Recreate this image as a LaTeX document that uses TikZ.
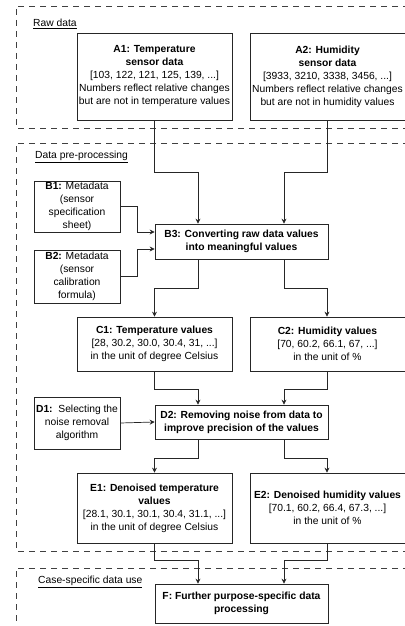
\documentclass[tikz,border=0pt]{standalone}
\usepackage{fontspec}
\setmainfont{Liberation Sans}
\usetikzlibrary{arrows.meta,calc}
\begin{document}
\begin{tikzpicture}[x=1pt,y=-1pt,
  every node/.style={font=\fontsize{10.3}{13}\selectfont, text=black},
  box/.style={draw=black!85, line width=0.7pt, rectangle, align=center, inner sep=1pt},
  grp/.style={draw=black!75, line width=0.6pt, dash pattern=on 6pt off 5pt},
  lbl/.style={anchor=west, inner sep=0pt},
  arr/.style={draw=black!85, line width=0.7pt, -{Stealth[length=5pt,width=5pt]}}
]
\useasboundingbox (0,0) rectangle (404,626);
% groups
\draw[grp] (420,6) -- (16,6) -- (16,128) -- (420,128);
\draw[grp] (420,143) -- (16,143) -- (16,551) -- (420,551);
\draw[grp] (420,568) -- (16,568) -- (16,640);
\node[lbl] (lraw) at (33,24) {\underline{Raw data}};
\node[lbl] (lpre) at (35,157) {\underline{Data pre-processing}};
\node[lbl] (lcase) at (38,582) {\underline{Case-specific data use}};
% nodes
\node[box, minimum width=155, minimum height=87] (A1) at (154.5,76.5)
  {\textbf{A1: Temperature}\\\textbf{sensor data}\\{[}103, 122, 121, 125, 139, ...]\\Numbers reflect relative changes\\but are not in temperature values};
\node[box, minimum width=155, minimum height=87] (A2) at (327.5,76.5)
  {\textbf{A2: Humidity}\\\textbf{sensor data}\\{[}3933, 3210, 3338, 3456, ...]\\Numbers reflect relative changes\\but are not in humidity values};
\node[box, minimum width=86, minimum height=51] (B1) at (77,206.5)
  {\textbf{B1:} Metadata\\(sensor\\specification\\sheet)};
\node[box, minimum width=86, minimum height=53] (B2) at (77,276.5)
  {\textbf{B2:} Metadata\\(sensor\\calibration\\formula)};
\node[box, minimum width=173, minimum height=35] (B3) at (241.5,241.5)
  {\textbf{B3: Converting raw data values}\\\textbf{into meaningful values}};
\node[box, minimum width=155, minimum height=54] (C1) at (154.5,344)
  {\textbf{C1: Temperature values}\\{[}28, 30.2, 30.0, 30.4, 31, ...]\\in the unit of degree Celsius};
\node[box, minimum width=155, minimum height=54] (C2) at (327.5,344)
  {\textbf{C2: Humidity values}\\{[}70, 60.2, 66.1, 67, ...]\\in the unit of \%};
\node[box, minimum width=86, minimum height=52] (D1) at (77,423)
  {\textbf{D1:}\ \ Selecting the\\noise removal\\algorithm};
\node[box, minimum width=173, minimum height=34] (D2) at (241.5,422)
  {\textbf{D2: Removing noise from data to}\\\textbf{improve precision of the values}};
\node[box, minimum width=155, minimum height=70] (E1) at (154.5,508)
  {\textbf{E1: Denoised temperature}\\\textbf{values}\\{[}28.1, 30.1, 30.1, 30.4, 31.1, ...]\\in the unit of degree Celsius};
\node[box, minimum width=155, minimum height=70] (E2) at (327.5,508)
  {\textbf{E2: Denoised humidity values}\\{[}70.1, 60.2, 66.4, 67.3, ...]\\in the unit of \%};
\node[box, minimum width=173, minimum height=39] (F) at (241.5,603.5)
  {\textbf{F: Further purpose-specific data}\\\textbf{processing}};
% connectors
\draw[arr] (A1.south) -- ++(0,52) -| ([xshift=-43.5]B3.north);
\draw[arr] ([xshift=-0.5]A2.south) -- ++(0,52) -| ([xshift=42.5]B3.north);
\draw[arr] (B1.east) -| ++(17,25.5) -- ([yshift=9.5]B3.west);
\draw[arr] (B2.east) -| ++(17,-27.5) -- ([yshift=-7.5]B3.west);
\draw[arr] ([xshift=-43.5]B3.south) -- ++(0,29) -| (C1.north);
\draw[arr] ([xshift=42.5]B3.south) -- ++(0,29) -| ([xshift=-0.5]C2.north);
\draw[arr] (C1.south) -- ++(0,18) -| ([xshift=-43.5]D2.north);
\draw[arr] ([xshift=-0.5]C2.south) -- ++(0,18) -| ([xshift=42.5]D2.north);
\draw[arr] (D1.east) -- (D2.west);
\draw[arr] ([xshift=-43.5]D2.south) -- ++(0,19) -| (E1.north);
\draw[arr] ([xshift=42.5]D2.south) -- ++(0,19) -| ([xshift=-0.5]E2.north);
\draw[arr] (E1.south) -- ++(0,17) -| ([xshift=-43.5]F.north);
\draw[arr] ([xshift=-0.5]E2.south) -- ++(0,17) -| ([xshift=42.5]F.north);
\end{tikzpicture}
\end{document}
